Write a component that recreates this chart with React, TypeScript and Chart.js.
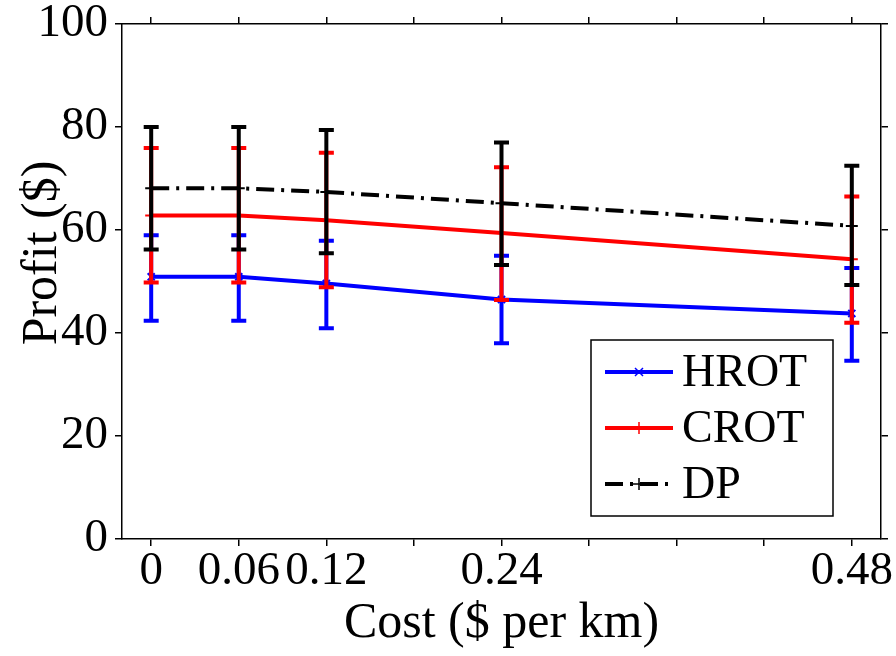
import React, { useEffect, useRef } from "react";
import { Chart, registerables } from "chart.js";
Chart.register(...registerables);

const costs = [0, 0.06, 0.12, 0.24, 0.48];
const xTickValues = [0, 0.06, 0.12, 0.18, 0.24, 0.3, 0.36, 0.42, 0.48];
const xTickLabels = ["0", "0.06", "0.12", "0.24", "0.48"];
const yTickValues = [0, 20, 40, 60, 80, 100];

const hrotMean = [50.9, 50.9, 49.6, 46.5, 43.8];
const hrotLow = [42.4, 42.4, 40.9, 38.0, 34.6];
const hrotHigh = [59.0, 59.0, 57.9, 55.0, 52.6];

const crotMean = [62.8, 62.8, 61.9, 59.4, 54.3];
const crotLow = [49.8, 49.8, 48.9, 46.4, 42.0];
const crotHigh = [75.9, 75.9, 75.0, 72.2, 66.5];

const dpMean = [68.1, 68.1, 67.4, 65.2, 60.8];
const dpLow = [56.2, 56.2, 55.5, 53.2, 49.3];
const dpHigh = [80.0, 80.0, 79.4, 77.0, 72.5];

const seriesNames = ["HROT", "CROT", "DP"];
const yTitle = "Profit ($)";
const xTitle = "Cost ($ per km)";
const FONT = "Liberation Serif";
const TICK_FS = 47;
const TITLE_FS = 50;
const LEGEND_FS = 46;
const DP_DASH = [18, 7, 3, 7];

const errorBarPlugin = {
  id: "errorBars",
  afterDatasetDraw(chart: any, args: any) {
    const ds = chart.data.datasets[args.index];
    if (!ds.errLow) return;
    const ctx = chart.ctx;
    const xs = chart.scales.x;
    const ys = chart.scales.y;
    ctx.save();
    ctx.strokeStyle = ds.borderColor;
    ctx.lineWidth = 4;
    ctx.setLineDash([]);
    ctx.lineCap = "butt";
    for (let i = 0; i < costs.length; i++) {
      const x = xs.getPixelForValue(costs[i]);
      const yl = ys.getPixelForValue(ds.errLow[i]);
      const yh = ys.getPixelForValue(ds.errHigh[i]);
      ctx.beginPath();
      ctx.moveTo(x, yl);
      ctx.lineTo(x, yh);
      ctx.moveTo(x - 7.5, yl);
      ctx.lineTo(x + 7.5, yl);
      ctx.moveTo(x - 7.5, yh);
      ctx.lineTo(x + 7.5, yh);
      ctx.stroke();
    }
    ctx.restore();
  },
};

const yTitlePlugin = {
  id: "yTitle",
  afterDraw(chart: any) {
    const ctx = chart.ctx;
    ctx.save();
    ctx.translate(56, 253);
    ctx.rotate(-Math.PI / 2);
    ctx.fillStyle = "#000";
    ctx.font = `${TITLE_FS}px ${FONT}`;
    ctx.textAlign = "center";
    ctx.textBaseline = "alphabetic";
    ctx.fillText(yTitle, 0, 0);
    ctx.restore();
  },
};

const legendPlugin = {
  id: "boxLegend",
  afterDraw(chart: any) {
    const ctx = chart.ctx;
    const ca = chart.chartArea;
    const left = ca.right - 290;
    const top = ca.top + 316;
    const w = 242;
    const h = 176;
    ctx.save();
    ctx.fillStyle = "#fff";
    ctx.fillRect(left, top, w, h);
    ctx.strokeStyle = "#000";
    ctx.lineWidth = 1.5;
    ctx.strokeRect(left, top, w, h);
    const rows = [32, 88, 144];
    chart.data.datasets.forEach((ds: any, i: number) => {
      const y = top + rows[i];
      const x0 = left + 14;
      const x1 = left + 82;
      ctx.strokeStyle = ds.borderColor;
      ctx.lineWidth = 4;
      ctx.setLineDash(ds.borderDash || []);
      ctx.beginPath();
      ctx.moveTo(x0, y);
      ctx.lineTo(x1, y);
      ctx.stroke();
      ctx.setLineDash([]);
      ctx.lineWidth = 1.5;
      const cx = (x0 + x1) / 2;
      ctx.beginPath();
      if (ds.pointStyle === "crossRot") {
        ctx.moveTo(cx - 4, y - 4);
        ctx.lineTo(cx + 4, y + 4);
        ctx.moveTo(cx - 4, y + 4);
        ctx.lineTo(cx + 4, y - 4);
      } else {
        ctx.moveTo(cx, y - 6);
        ctx.lineTo(cx, y + 6);
        ctx.moveTo(cx - 6, y);
        ctx.lineTo(cx + 6, y);
      }
      ctx.stroke();
      ctx.fillStyle = "#000";
      ctx.font = `${LEGEND_FS}px ${FONT}`;
      ctx.textBaseline = "middle";
      ctx.textAlign = "left";
      ctx.fillText(ds.label, left + 91, y + 2);
    });
    ctx.restore();
  },
};

function App() {
  const ref = useRef<HTMLCanvasElement | null>(null);
  useEffect(() => {
    if (!ref.current) return;
    const toXY = (arr: number[]) => arr.map((v, i) => ({ x: costs[i], y: v }));
    const gridOpts = {
      display: true,
      drawOnChartArea: false,
      drawTicks: true,
      tickLength: 7,
      color: "#000",
      lineWidth: 1.5,
    };
    const borderOpts = { display: true, color: "#000", width: 1.5 };
    const setXTicks = (scale: any) => {
      scale.ticks = xTickValues.map((v) => ({ value: v }));
    };
    const setYTicks = (scale: any) => {
      scale.ticks = yTickValues.map((v) => ({ value: v }));
    };
    const chart = new Chart(ref.current, {
      type: "line",
      data: {
        datasets: [
          {
            label: seriesNames[0],
            data: toXY(hrotMean),
            borderColor: "#0000ff",
            backgroundColor: "#0000ff",
            borderWidth: 4,
            pointStyle: "crossRot",
            pointRadius: 5,
            pointBorderWidth: 2,
            order: 3,
            errLow: hrotLow,
            errHigh: hrotHigh,
          } as any,
          {
            label: seriesNames[1],
            data: toXY(crotMean),
            borderColor: "#ff0000",
            backgroundColor: "#ff0000",
            borderWidth: 4,
            pointStyle: "cross",
            pointRadius: 6,
            pointBorderWidth: 2,
            order: 2,
            errLow: crotLow,
            errHigh: crotHigh,
          } as any,
          {
            label: seriesNames[2],
            data: toXY(dpMean),
            borderColor: "#000000",
            backgroundColor: "#000000",
            borderWidth: 4,
            borderDash: DP_DASH,
            pointStyle: "cross",
            pointRadius: 6,
            pointBorderWidth: 2,
            order: 1,
            errLow: dpLow,
            errHigh: dpHigh,
          } as any,
        ],
      },
      options: {
        animation: false,
        responsive: false,
        maintainAspectRatio: false,
        layout: { padding: 0 },
        plugins: {
          legend: { display: false },
          tooltip: { enabled: false },
        },
        scales: {
          x: {
            type: "linear",
            position: "bottom",
            min: -0.02,
            max: 0.5,
            afterBuildTicks: setXTicks,
            afterFit: (s: any) => {
              s.height = 117;
            },
            grid: gridOpts,
            border: borderOpts,
            ticks: {
              autoSkip: false,
              maxRotation: 0,
              padding: 2,
              color: "#000",
              font: { family: FONT, size: TICK_FS, lineHeight: 1 },
              callback: (v: any) => {
                const s = String(Math.round(Number(v) * 100) / 100);
                return xTickLabels.includes(s) ? s : "";
              },
            },
            title: {
              display: true,
              text: xTitle,
              color: "#000",
              font: { family: FONT, size: TITLE_FS, lineHeight: 1.2 },
              padding: { top: 0, bottom: 2 },
            },
          },
          xTop: {
            type: "linear",
            position: "top",
            min: -0.02,
            max: 0.5,
            afterBuildTicks: setXTicks,
            afterFit: (s: any) => {
              s.height = 24;
            },
            grid: gridOpts,
            border: borderOpts,
            ticks: { autoSkip: false, maxRotation: 0, font: { size: 1 }, callback: () => "" },
          },
          y: {
            type: "linear",
            position: "left",
            min: 0,
            max: 100,
            afterBuildTicks: setYTicks,
            afterFit: (s: any) => {
              s.width = 122;
            },
            grid: gridOpts,
            border: borderOpts,
            ticks: {
              padding: 7,
              color: "#000",
              font: { family: FONT, size: TICK_FS, lineHeight: 0.4 },
            },
          },
          yRight: {
            type: "linear",
            position: "right",
            min: 0,
            max: 100,
            afterBuildTicks: setYTicks,
            afterFit: (s: any) => {
              s.width = 15;
            },
            grid: gridOpts,
            border: borderOpts,
            ticks: { font: { size: 1 }, callback: () => "" },
          },
        },
      },
      plugins: [errorBarPlugin, legendPlugin, yTitlePlugin],
    } as any);
    return () => chart.destroy();
  }, []);
  return (
    <div style={{ position: "absolute", left: 0, top: 0, width: 896, height: 656, background: "#fff" }}>
      <canvas ref={ref} width={896} height={656} />
    </div>
  );
}

export default App;
